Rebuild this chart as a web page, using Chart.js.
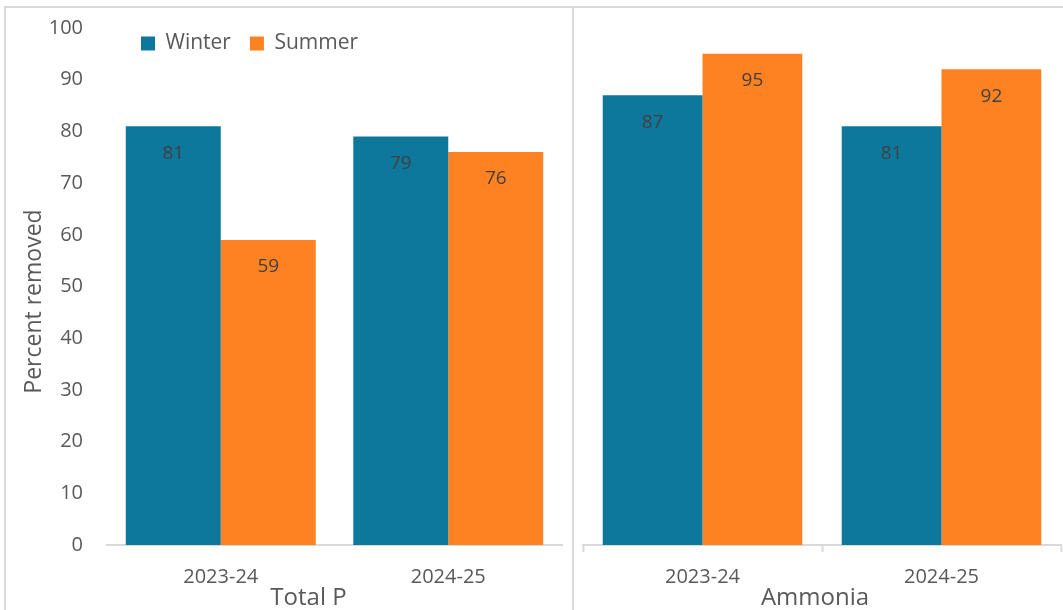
<!DOCTYPE html>
<html>
<head>
<meta charset="utf-8">
<title>Percent removed</title>
<script src="https://cdn.jsdelivr.net/npm/chart.js@4.4.1/dist/chart.umd.min.js"></script>
<style>
  body { margin: 0; background: #fff; overflow: hidden; }
  .panel { position: absolute; border: 2px solid #d9d9d9; box-sizing: border-box; }
  #leftPanel { left: 4px; top: 6px; width: 570px; height: 660px; }
  #rightPanel { left: 572px; top: 6px; width: 540px; height: 660px; }
  .box { position: absolute; top: 9px; height: 601px; }
  #leftBox { left: 7px; width: 565px; }
  #rightBox { left: 575px; width: 488px; }
</style>
</head>
<body>
<div class="panel" id="leftPanel"></div>
<div class="panel" id="rightPanel"></div>
<div class="box" id="leftBox"><canvas id="totalP"></canvas></div>
<div class="box" id="rightBox"><canvas id="ammonia"></canvas></div>

<script>
const years = ['2023-24', '2024-25'];
const seasons = ['Winter', 'Summer'];
const totalPWinter = [81, 79];
const totalPSummer = [59, 76];
const ammoniaWinter = [87, 81];
const ammoniaSummer = [95, 92];

const winterColor = '#0E789C';
const summerColor = '#FF8222';
const textColor = '#595959';
const lineColor = '#d9d9d9';

Chart.defaults.font.family = '"Open Sans", sans-serif';
Chart.defaults.color = textColor;

// value printed just inside the top of each bar
const barLabels = {
  id: 'barLabels',
  afterDatasetsDraw(chart) {
    const ctx = chart.ctx;
    ctx.save();
    ctx.font = '19px "Open Sans"';
    ctx.fillStyle = '#404040';
    ctx.textAlign = 'center';
    ctx.textBaseline = 'middle';
    chart.data.datasets.forEach((ds, i) => {
      chart.getDatasetMeta(i).data.forEach((bar, j) => {
        ctx.fillText(ds.data[j], bar.x, bar.y + 27);
      });
    });
    ctx.restore();
  }
};

// axis captions, placed a little off the plot centre
const captions = {
  id: 'captions',
  afterDraw(chart, args, opts) {
    const { ctx, chartArea } = chart;
    ctx.save();
    ctx.fillStyle = textColor;
    ctx.textAlign = 'center';
    ctx.textBaseline = 'middle';
    if (opts.bottom) {
      ctx.font = '24px "Open Sans"';
      ctx.fillText(opts.bottom.text, (chartArea.left + chartArea.right) / 2 + opts.bottom.shift, chart.height - 12);
    }
    if (opts.left) {
      ctx.font = '23px "Open Sans"';
      ctx.translate(opts.left.x, (chartArea.top + chartArea.bottom) / 2 + opts.left.shift);
      ctx.rotate(-Math.PI / 2);
      ctx.fillText(opts.left.text, 0, 0);
    }
    ctx.restore();
  }
};

// legend sits over the empty top of the plot instead of taking its own row
const legendInPlot = {
  id: 'legendInPlot',
  beforeLayout(chart) {
    const lg = chart.legend;
    if (!lg || lg._inPlot) return;
    const fit = lg.fit;
    lg.fit = function () { fit.call(this); this.height = 0; };
    lg._inPlot = true;
  },
  afterLayout(chart) {
    const lg = chart.legend;
    if (!lg) return;
    lg.left = 115;
    lg.right = 500;
    lg.top = 5;
    lg.bottom = 60;
    lg.width = lg.right - lg.left;
    lg.height = lg.bottom - lg.top;
  }
};

function datasets(winter, summer) {
  return [
    { label: seasons[0], data: winter, backgroundColor: winterColor },
    { label: seasons[1], data: summer, backgroundColor: summerColor }
  ].map(d => Object.assign(d, { borderWidth: 0, categoryPercentage: 0.835, barPercentage: 1 }));
}

new Chart(document.getElementById('totalP'), {
  type: 'bar',
  data: { labels: years, datasets: datasets(totalPWinter, totalPSummer) },
  plugins: [barLabels, legendInPlot, captions],
  options: {
    responsive: true,
    maintainAspectRatio: false,
    animation: false,
    layout: { padding: { top: 19, right: 10, left: 0, bottom: 0 } },
    plugins: {
      tooltip: { enabled: false },
      captions: {
        bottom: { text: 'Total P', shift: -26 },
        left: { text: 'Percent removed', x: 27, shift: 15 }
      },
      legend: {
        position: 'top',
        align: 'start',
        labels: { boxWidth: 14, boxHeight: 14, padding: 19, color: textColor, font: { size: 21 } }
      }
    },
    scales: {
      x: {
        grid: { display: false, drawTicks: false },
        border: { color: lineColor, width: 2 },
        ticks: { color: textColor, font: { size: 20 }, padding: 20 },
        afterFit(s) { s.height = 65; }
      },
      y: {
        min: 0,
        max: 100,
        grid: { display: false, drawTicks: false },
        border: { display: false },
        ticks: { stepSize: 10, color: textColor, font: { size: 20 }, padding: 24 },
        // the wide tick padding should not push the plot down
        afterFit(s) { s.width = 100; s.paddingTop = 12; s.paddingBottom = 12; }
      }
    }
  }
});

new Chart(document.getElementById('ammonia'), {
  type: 'bar',
  data: { labels: years, datasets: datasets(ammoniaWinter, ammoniaSummer) },
  plugins: [barLabels, captions],
  options: {
    responsive: true,
    maintainAspectRatio: false,
    animation: false,
    layout: { padding: { top: 19, right: 2, left: 8, bottom: 0 } },
    plugins: {
      tooltip: { enabled: false },
      captions: { bottom: { text: 'Ammonia', shift: -7 } },
      legend: { display: false }
    },
    scales: {
      x: {
        grid: { display: true, drawOnChartArea: false, drawTicks: true, tickLength: 7, tickColor: lineColor, tickWidth: 2, color: lineColor, offset: true },
        border: { color: lineColor, width: 2 },
        ticks: { color: textColor, font: { size: 20 }, padding: 13 },
        afterFit(s) { s.height = 65; }
      },
      y: { display: false, min: 0, max: 100 }
    }
  }
});
</script>
</body>
</html>
